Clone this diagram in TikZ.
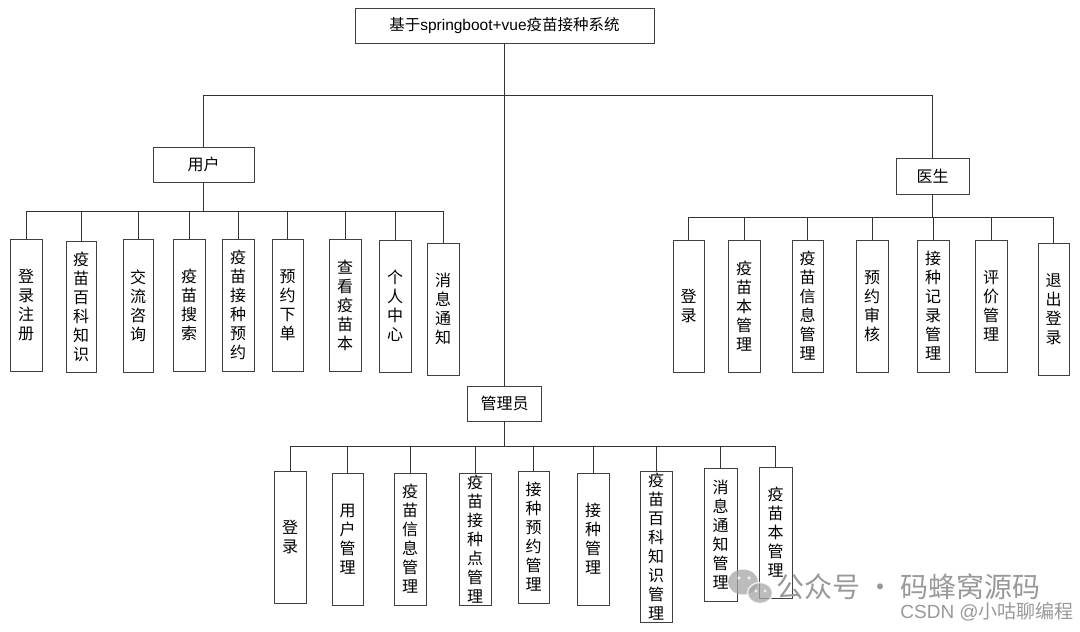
\documentclass[tikz,border=0pt]{standalone}
\usepackage{fontspec}
\setmainfont{Liberation Sans}
\newfontfamily\cjk{Noto Sans CJK SC}
\tikzset{
  box/.style={draw=black!75, line width=0.9pt, fill=white, inner sep=0pt,
    font=\cjk\fontsize{16}{19}\selectfont, align=center},
  link/.style={draw=black!80, line width=0.8pt},
  wmark/.style={text=black!40, inner sep=0pt}
}
\newcommand\mybox[6]{\node[box, minimum width={#3-#2}, minimum height={#5-#4}] (#1) at ({(#2+#3)/2},{(#4+#5)/2}) {#6};}
\begin{document}
\begin{tikzpicture}[x=1pt,y=-1pt]
\useasboundingbox[fill=white] (0,0) rectangle (1080,632);
% top level
\node[box, minimum width=299, minimum height=35, font=\fontsize{15.5}{18}\selectfont] (root) at (504.5,25.5) {{\cjk 基于}springboot+vue{\cjk 疫苗接种系统}};
\mybox{user}{153}{254}{147}{182}{用户}
\mybox{doctor}{896}{969}{158}{194}{医生}
\mybox{admin}{467.5}{541.5}{386}{421}{管理员}
% user children
\mybox{u1}{10}{42}{239}{371}{登\\录\\注\\册}
\mybox{u2}{66}{96}{241}{372}{疫\\苗\\百\\科\\知\\识}
\mybox{u3}{123}{153}{239}{372}{交\\流\\咨\\询}
\mybox{u4}{173}{205}{239}{371}{疫\\苗\\搜\\索}
\mybox{u5}{222}{254}{239}{371}{疫\\苗\\接\\种\\预\\约}
\mybox{u6}{272}{303}{239}{371}{预\\约\\下\\单}
\mybox{u7}{329}{361}{239}{371}{查\\看\\疫\\苗\\本}
\mybox{u8}{379}{411}{240}{372}{个\\人\\中\\心}
\mybox{u9}{427}{459}{243}{375}{消\\息\\通\\知}
% doctor children
\mybox{d1}{673}{704}{240}{372}{登\\录}
\mybox{d2}{728}{760}{240}{372}{疫\\苗\\本\\管\\理}
\mybox{d3}{792}{823}{240}{372}{疫\\苗\\信\\息\\管\\理}
\mybox{d4}{856}{888}{240}{372}{预\\约\\审\\核}
\mybox{d5}{917}{949}{240}{372}{接\\种\\记\\录\\管\\理}
\mybox{d6}{975}{1007}{240}{372}{评\\价\\管\\理}
\mybox{d7}{1038}{1069}{243}{375}{退\\出\\登\\录}
% admin children
\mybox{a1}{274}{306}{471}{603}{登\\录}
\mybox{a2}{332}{363}{473}{605}{用\\户\\管\\理}
\mybox{a3}{394}{426}{473}{605}{疫\\苗\\信\\息\\管\\理}
\mybox{a4}{459}{491}{473}{605}{疫\\苗\\接\\种\\点\\管\\理}
\mybox{a5}{518}{549}{471}{603}{接\\种\\预\\约\\管\\理}
\mybox{a6}{577}{609}{473}{605}{接\\种\\管\\理}
\mybox{a7}{640}{672}{471}{622}{疫\\苗\\百\\科\\知\\识\\管\\理}
\mybox{a8}{704}{737}{468}{601}{消\\息\\通\\知\\管\\理}
\mybox{a9}{759}{792}{467}{598}{疫\\苗\\本\\管\\理}
% connectors
\coordinate (rb) at (504.5,95);
\coordinate (ub) at (203.5,211);
\coordinate (db) at (932.5,217);
\coordinate (ab) at (504.5,446);
\draw[link] (root) -- (admin);
\draw[link] (rb) -| (user.north);
\draw[link] (rb) -| (doctor.north);
\draw[link] (user.south) -- (ub);
\foreach \c in {u1,u2,u3,u4,u5,u6,u7,u8,u9} \draw[link] (ub) -| (\c.north);
\draw[link] (doctor.south) -- (db);
\foreach \c in {d1,d2,d3,d4,d5,d6,d7} \draw[link] (db) -| (\c.north);
\draw[link] (admin.south) -- (ab);
\foreach \c in {a1,a2,a3,a4,a5,a6,a7,a8,a9} \draw[link] (ab) -| (\c.north);
% watermark
\begin{scope}[opacity=0.75]
\fill[black!35] (743,582) ellipse (15 and 12.5);
\fill[white] (739,578) circle (1.9) (749,578) circle (1.9);
\filldraw[fill=black!35, draw=white, line width=1.5pt] (760,593) ellipse (12.5 and 10.5);
\fill[white] (756,591) circle (1.6) (765,591) circle (1.6);
\end{scope}
\node[wmark, anchor=west, font=\cjk\fontsize{28}{30}\selectfont] (wm1) at (776,587) {公众号 · 码蜂窝源码};
\node[wmark, anchor=east, font=\fontsize{19}{21}\selectfont] (wm2) at (1074,612) {CSDN @{\cjk 小咕聊编程}};
\end{tikzpicture}
\end{document}
